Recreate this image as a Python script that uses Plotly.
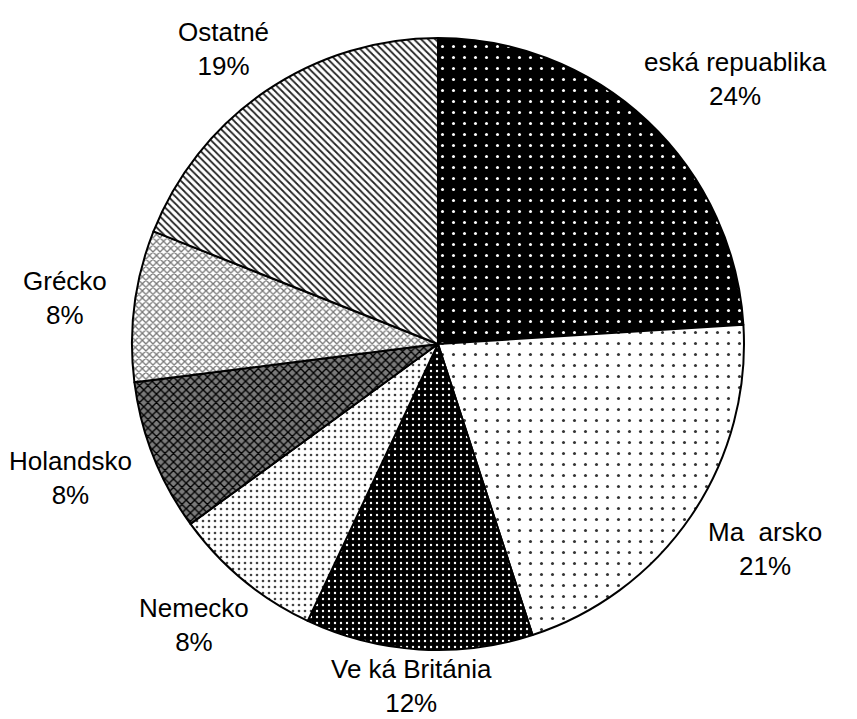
import math
import plotly.graph_objects as go

labels = ["eská repuablika", "Ma  arsko", "Ve ká Británia", "Nemecko", "Holandsko", "Grécko", "Ostatné"]
values = [24, 21, 12, 8, 8, 8, 19]

bg = ["#000000", "#ffffff", "#000000", "#ffffff", "#7a7a7a", "#ffffff", "#ffffff"]
fg = ["#ffffff", "#333333", "#ffffff", "#444444", "#000000", "#777777", "#222222"]
shapes = [".", ".", ".", ".", "x", "x", "\\"]
sizes = [11, 11, 6, 6, 6, 5, 5]
solid = [0.06, 0.06, 0.12, 0.15, 0.4, 0.45, 0.35]

W, H = 857, 719
CX, CY, R = 430, 336, 306     # pie centre / radius in pixels
FONT = 26
DX = 1.10                     # horizontal gap factor (to label box edge)
FY = 1.19                     # vertical distance factor
EDGE = 41                     # keep label boxes inside the page

fig = go.Figure(go.Pie(
    labels=labels, values=values, sort=False, direction="clockwise", rotation=0,
    textinfo="none",
    domain=dict(x=[(CX - R) / W, (CX + R) / W], y=[1 - (CY + R) / H, 1 - (CY - R) / H]),
    marker=dict(colors=bg, line=dict(color="black", width=2),
                pattern=dict(shape=shapes, fgcolor=fg, bgcolor=bg, size=sizes,
                             solidity=solid, fillmode="replace")),
    showlegend=False, hoverinfo="skip",
))

total = sum(values)
cum = 0
for lab, v in zip(labels, values):
    mid = (cum + v / 2) / total * 2 * math.pi
    cum += v
    half_w = 0.25 * FONT * len(lab)          # rough half width of the label text
    px = CX + math.sin(mid) * (R * DX + half_w)
    py = CY - math.cos(mid) * R * FY
    py = min(max(py, EDGE), H - EDGE)
    fig.add_annotation(x=px / W, y=1 - py / H, xref="paper", yref="paper",
                       text=f"{lab}<br>{round(v / total * 100)}%", showarrow=False,
                       xanchor="center", yanchor="middle", align="center",
                       font=dict(family="Liberation Sans, Arial", size=FONT, color="black"))

fig.update_layout(width=W, height=H, margin=dict(l=0, r=0, t=0, b=0),
                  paper_bgcolor="white", plot_bgcolor="white")
fig.write_html("out.html")
